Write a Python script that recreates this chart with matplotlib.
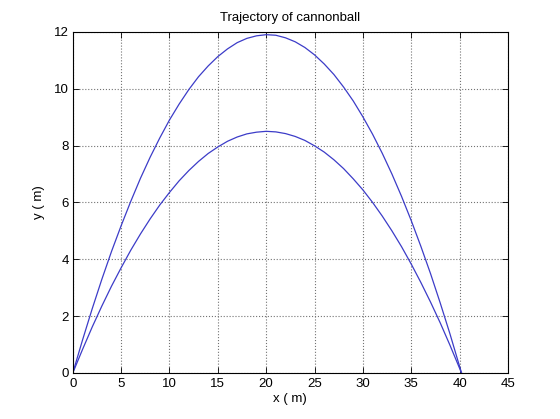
import matplotlib
matplotlib.use("Agg")
import matplotlib.pyplot as plt

# values
x_high = [0, 1, 2, 3, 4, 5, 6, 7, 8, 9, 10, 11, 12, 13, 14, 15, 16, 17, 18, 19, 20,
          21, 22, 23, 24, 25, 26, 27, 28, 29, 30, 31, 32, 33, 34, 35, 36, 37, 38, 39, 40.2]
y_high = [0, 1.15, 2.25, 3.29, 4.27, 5.18, 6.04, 6.85, 7.59, 8.27, 8.90,
          9.46, 9.97, 10.42, 10.80, 11.13, 11.40, 11.62, 11.77, 11.86, 11.90,
          11.88, 11.79, 11.65, 11.45, 11.19, 10.87, 10.50, 10.06, 9.57, 9.01,
          8.40, 7.73, 7.00, 6.21, 5.36, 4.45, 3.49, 2.46, 1.38, 0]

x_low = [0, 1, 2, 3, 4, 5, 6, 7, 8, 9, 10, 11, 12, 13, 14, 15, 16, 17, 18, 19, 20,
         21, 22, 23, 24, 25, 26, 27, 28, 29, 30, 31, 32, 33, 34, 35, 36, 37, 38, 39, 40.2]
y_low = [0, 0.82, 1.61, 2.35, 3.05, 3.70, 4.32, 4.89, 5.42, 5.91, 6.35,
         6.76, 7.12, 7.44, 7.72, 7.95, 8.15, 8.30, 8.41, 8.47, 8.50,
         8.48, 8.42, 8.32, 8.18, 7.99, 7.77, 7.50, 7.19, 6.83, 6.44,
         6.00, 5.52, 5.00, 4.44, 3.83, 3.18, 2.49, 1.76, 0.98, 0]

xticks = [0, 5, 10, 15, 20, 25, 30, 35, 40, 45]
yticks = [0, 2, 4, 6, 8, 10, 12]

plt.rcParams["font.family"] = ["Liberation Sans", "DejaVu Sans"]
plt.rcParams["font.size"] = 9.5

fig = plt.figure(figsize=(5.6, 4.19), dpi=100)
ax = fig.add_axes([0.130, 0.110, 0.777, 0.814])

ax.plot(x_high, y_high, color="#3c3cc8", lw=0.9)
ax.plot(x_low, y_low, color="#3c3cc8", lw=0.9)

ax.set_xlim(0, 45)
ax.set_ylim(0, 12)
ax.set_xticks(xticks)
ax.set_yticks(yticks)
ax.tick_params(direction="in", top=True, right=True, length=4, width=0.6,
               colors="black", pad=3)
ax.tick_params(axis="x", pad=4)
for s in ax.spines.values():
    s.set_linewidth(0.8)

ax.grid(True, linestyle=":", color="0.45", linewidth=0.8)

ax.set_title("Trajectory of cannonball", fontsize=9.5, pad=8)
ax.set_xlabel("x ( m)", labelpad=2)
ax.set_ylabel("y ( m)", labelpad=6)

fig.savefig("out.png", dpi=100, facecolor="white")
